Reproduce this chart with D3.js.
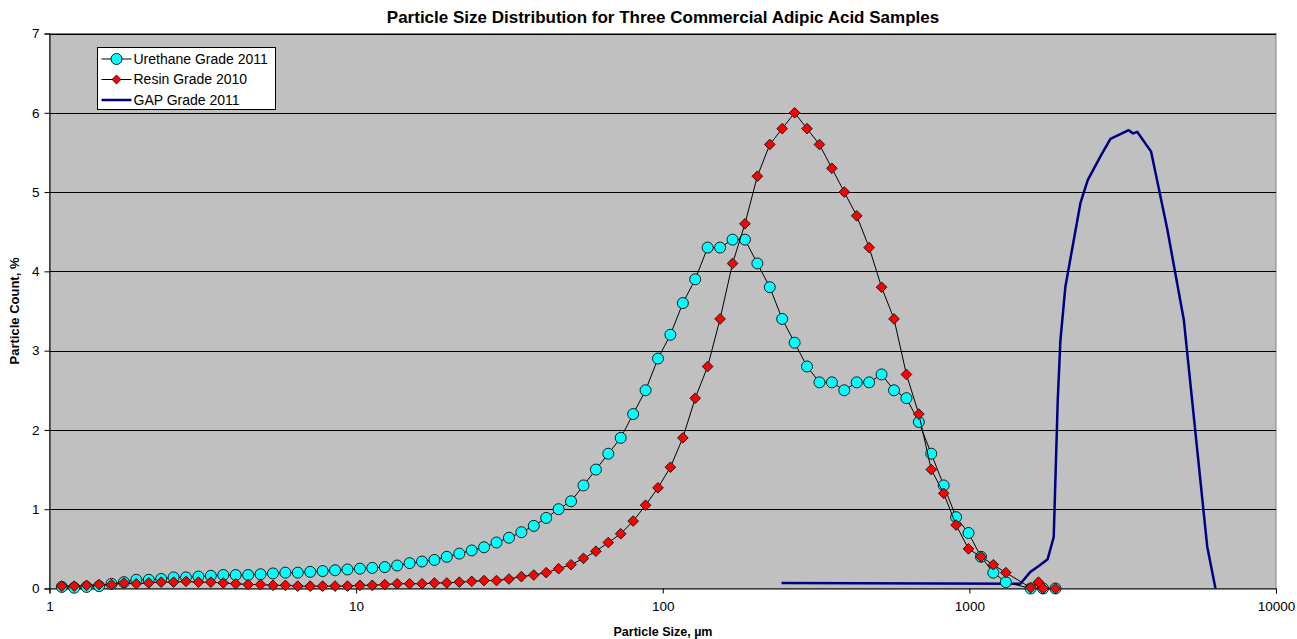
<!DOCTYPE html>
<html>
<head>
<meta charset="utf-8">
<script src="https://cdn.jsdelivr.net/npm/d3@7/dist/d3.min.js"></script>
<style>
  body { margin: 0; background: #fff; }
  svg text { font-family: Arial, "Liberation Sans", sans-serif; }
</style>
</head>
<body>
<div id="chart"></div>
<script>
// channel centres (µm) of the laser sizer
var sizes = [1.097, 1.204, 1.321, 1.451, 1.593, 1.749, 1.919, 2.107, 2.313, 2.539,
  2.787, 3.060, 3.359, 3.687, 4.048, 4.444, 4.878, 5.355, 5.879, 6.453,
  7.084, 7.777, 8.537, 9.371, 10.29, 11.29, 12.40, 13.61, 14.94, 16.40,
  18.00, 19.76, 21.70, 23.82, 26.14, 28.70, 31.51, 34.59, 37.97, 41.68,
  45.75, 50.23, 55.13, 60.53, 66.44, 72.93, 80.07, 87.90, 96.49, 105.9,
  116.3, 127.6, 140.1, 153.8, 168.9, 185.4, 203.5, 223.4, 245.2, 269.2,
  295.5, 324.4, 356.1, 390.9, 429.2, 471.1, 517.2, 567.8, 623.3, 684.2,
  751.1, 824.5, 905.1, 993.6, 1091, 1197, 1315, 1584, 1739, 1909];

var urethane = [0.02, 0.01, 0.02, 0.03, 0.06, 0.08, 0.11, 0.11, 0.12, 0.14,
  0.14, 0.15, 0.16, 0.17, 0.17, 0.17, 0.18, 0.19, 0.20, 0.20,
  0.21, 0.22, 0.23, 0.24, 0.25, 0.26, 0.27, 0.29, 0.32, 0.34,
  0.36, 0.40, 0.44, 0.48, 0.52, 0.58, 0.64, 0.71, 0.79, 0.89,
  1.00, 1.10, 1.30, 1.50, 1.70, 1.90, 2.20, 2.50, 2.90, 3.20,
  3.60, 3.90, 4.30, 4.30, 4.40, 4.40, 4.10, 3.80, 3.40, 3.10,
  2.80, 2.60, 2.60, 2.50, 2.60, 2.60, 2.70, 2.50, 2.40, 2.10,
  1.70, 1.30, 0.90, 0.70, 0.40, 0.20, 0.08, 0.00, 0.00, 0.00];

// resin has one extra reading near 1680 µm
var resinSizes = sizes.slice(0, 78).concat([1680]).concat(sizes.slice(78));
var resin = [0.03, 0.03, 0.04, 0.05, 0.05, 0.07, 0.06, 0.07, 0.08, 0.08,
  0.09, 0.08, 0.08, 0.07, 0.06, 0.05, 0.05, 0.04, 0.04, 0.03,
  0.03, 0.03, 0.03, 0.03, 0.04, 0.04, 0.05, 0.06, 0.06, 0.06,
  0.07, 0.07, 0.08, 0.09, 0.10, 0.10, 0.12, 0.15, 0.17, 0.20,
  0.25, 0.30, 0.38, 0.47, 0.58, 0.69, 0.85, 1.05, 1.27, 1.53,
  1.90, 2.40, 2.80, 3.40, 4.10, 4.60, 5.20, 5.60, 5.80, 6.00,
  5.80, 5.60, 5.30, 5.00, 4.70, 4.30, 3.80, 3.40, 2.70, 2.20,
  1.50, 1.20, 0.80, 0.50, 0.40, 0.30, 0.20, 0.01, 0.08, 0.00, 0.00];

var gapSizes = [244, 1467, 1581, 1680, 1800, 1884, 1942, 1981, 2057, 2302,
  2432, 2676, 2884, 3309, 3420, 3525, 3915, 4416, 5004, 5965, 6347];
var gap = [0.07, 0.06, 0.21, 0.28, 0.37, 0.65, 2.38, 3.13, 3.81, 4.86,
  5.15, 5.45, 5.67, 5.78, 5.74, 5.76, 5.51, 4.54, 3.39, 0.53, 0.00];

var xTicks = [1, 10, 100, 1000, 10000];
var yTicks = [0, 1, 2, 3, 4, 5, 6, 7];
var legendNames = ["Urethane Grade 2011", "Resin Grade 2010", "GAP Grade 2011"];

var svgWidth = 1297, svgHeight = 639;
var plotLeft = 49.5, plotRight = 1276, plotTop = 33.5, plotBottom = 588.5;

var svg = d3.select("#chart").append("svg")
  .attr("width", svgWidth)
  .attr("height", svgHeight);

var x = d3.scaleLog().domain([1, 10000]).range([plotLeft, plotRight]);
var y = d3.scaleLinear().domain([0, 7]).range([plotBottom, plotTop]);

// plot area
svg.append("rect")
  .attr("x", plotLeft).attr("y", plotTop)
  .attr("width", plotRight - plotLeft).attr("height", plotBottom - plotTop)
  .attr("fill", "#c0c0c0")
  .attr("stroke", "#808080");

// gridlines
svg.selectAll(".grid")
  .data(yTicks.filter(function(d) { return d > 0; }))
  .enter().append("line")
  .attr("x1", plotLeft).attr("x2", plotRight)
  .attr("y1", function(d) { return Math.round(y(d)) + 0.5; })
  .attr("y2", function(d) { return Math.round(y(d)) + 0.5; })
  .attr("stroke", "#000");

// axes
var yAxis = d3.axisLeft(y).tickValues(yTicks).tickSize(5).tickPadding(5)
  .tickFormat(d3.format("d"));
var gy = svg.append("g").attr("transform", "translate(" + plotLeft + ",0)").call(yAxis);

var xAxis = d3.axisBottom(x).tickValues(xTicks).tickSize(5).tickPadding(8)
  .tickFormat(d3.format("d"));
var gx = svg.append("g").attr("transform", "translate(0," + plotBottom + ")").call(xAxis);

[gx, gy].forEach(function(g) {
  g.select(".domain").attr("stroke", "#000");
  g.selectAll(".tick line").attr("stroke", "#000");
  g.selectAll(".tick text").attr("fill", "#000")
    .style("font-size", "13.5px")
    .style("font-family", "Arial, 'Liberation Sans', sans-serif");
});

// series
var line = d3.line()
  .x(function(d) { return x(d[0]); })
  .y(function(d) { return y(d[1]); });

var gapData = d3.zip(gapSizes, gap);
var uData = d3.zip(sizes, urethane);
var rData = d3.zip(resinSizes, resin);

svg.append("path").datum(gapData)
  .attr("d", line)
  .attr("fill", "none")
  .attr("stroke", "#000080")
  .attr("stroke-width", 2.5)
  .attr("stroke-linejoin", "round");

svg.append("path").datum(uData)
  .attr("d", line)
  .attr("fill", "none")
  .attr("stroke", "#000")
  .attr("stroke-width", 1);

svg.selectAll(".uMark").data(uData).enter().append("circle")
  .attr("cx", function(d) { return x(d[0]); })
  .attr("cy", function(d) { return y(d[1]); })
  .attr("r", 5.5)
  .attr("fill", "#00ffff")
  .attr("stroke", "#1a1a1a")
  .attr("stroke-width", 1);

svg.append("path").datum(rData)
  .attr("d", line)
  .attr("fill", "none")
  .attr("stroke", "#000")
  .attr("stroke-width", 1);

var diamond = d3.symbol().type(d3.symbolDiamond2).size(72);
svg.selectAll(".rMark").data(rData).enter().append("path")
  .attr("d", diamond)
  .attr("transform", function(d) { return "translate(" + x(d[0]) + "," + y(d[1]) + ")"; })
  .attr("fill", "#ff0000")
  .attr("stroke", "#1a1a1a")
  .attr("stroke-width", 1);

// legend
var lg = svg.append("g").attr("transform", "translate(97.5,47.5)");
lg.append("rect")
  .attr("width", 178).attr("height", 62)
  .attr("fill", "#fff").attr("stroke", "#000");

var rows = lg.selectAll(".row").data(legendNames).enter().append("g")
  .attr("transform", function(d, i) { return "translate(0," + (11.5 + i * 20.5) + ")"; });

rows.append("line")
  .attr("x1", 4).attr("x2", 34)
  .attr("stroke", function(d, i) { return i === 2 ? "#000080" : "#000"; })
  .attr("stroke-width", function(d, i) { return i === 2 ? 2.5 : 1; });

rows.filter(function(d, i) { return i === 0; }).append("circle")
  .attr("cx", 19).attr("r", 5.5)
  .attr("fill", "#00ffff").attr("stroke", "#1a1a1a");

rows.filter(function(d, i) { return i === 1; }).append("path")
  .attr("d", d3.symbol().type(d3.symbolDiamond2).size(50))
  .attr("transform", "translate(19,0)")
  .attr("fill", "#ff0000").attr("stroke", "#1a1a1a");

rows.append("text")
  .attr("x", 36).attr("dy", "0.35em")
  .style("font-size", "14px")
  .text(function(d) { return d; });

// titles
svg.append("text")
  .attr("x", 663).attr("y", 23)
  .attr("text-anchor", "middle")
  .style("font-size", "17px").style("font-weight", "bold")
  .text("Particle Size Distribution for Three Commercial Adipic Acid Samples");

svg.append("text")
  .attr("x", 663).attr("y", 636)
  .attr("text-anchor", "middle")
  .style("font-size", "12.5px").style("font-weight", "bold")
  .text("Particle Size, µm");

svg.append("text")
  .attr("transform", "translate(19," + ((plotTop + plotBottom) / 2) + ") rotate(-90)")
  .attr("text-anchor", "middle")
  .style("font-size", "13px").style("font-weight", "bold")
  .text("Particle Count, %");
</script>
</body>
</html>
